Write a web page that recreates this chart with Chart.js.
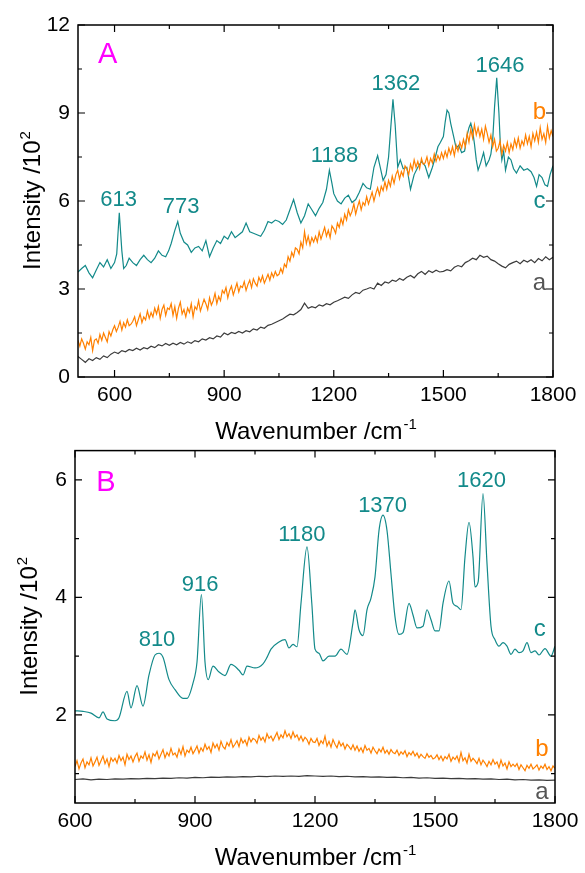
<!DOCTYPE html>
<html>
<head>
<meta charset="utf-8">
<script src="https://cdn.jsdelivr.net/npm/chart.js@4.4.1/dist/chart.umd.min.js"></script>
<style>
  html, body { margin: 0; padding: 0; background: #fff; }
  #wrap { position: relative; width: 585px; height: 873px; }
  canvas { position: absolute; left: 0; }
  #chartA { top: 0; }
  #chartB { top: 430px; }
</style>
</head>
<body>
<div id="wrap">
  <canvas id="chartA" width="585" height="450" style="width:585px;height:450px"></canvas>
  <canvas id="chartB" width="585" height="443" style="width:585px;height:443px"></canvas>
</div>
<script>
const FONT = '"Liberation Sans", Arial, Helvetica, sans-serif';
const TEAL = '#138a8a';
const ORANGE = '#ff8000';
const GREY = '#3c3c3c';

function grid(start, step, n) {
  const out = [];
  for (let i = 0; i < n; i++) out.push(start + i * step);
  return out;
}

// ---- panel A ----
const xTicksA = [600, 900, 1200, 1500, 1800];
const xMinorA = [750, 1050, 1350, 1650];
const yTicksA = [0, 3, 6, 9, 12];
const yMinorA = [1.5, 4.5, 7.5, 10.5];

// spectrum a, every 10 cm-1 from 500
const waveAa = grid(500, 10, 131);
const specAa = [
  0.7, 0.6, 0.5, 0.62, 0.56, 0.66, 0.6, 0.72, 0.66, 0.78,
  0.85, 0.8, 0.9, 0.86, 0.94, 0.9, 0.98, 0.92, 1.0, 0.96,
  1.05, 1.0, 1.1, 1.06, 1.14, 1.08, 1.15, 1.1, 1.18, 1.12,
  1.2, 1.15, 1.24, 1.2, 1.3, 1.26, 1.34, 1.3, 1.4, 1.36,
  1.5, 1.44, 1.52, 1.48, 1.55, 1.5, 1.58, 1.54, 1.64, 1.6,
  1.7, 1.66, 1.76, 1.8, 1.86, 1.92, 1.98, 2.06, 2.14, 2.12,
  2.2, 2.3, 2.52, 2.34, 2.4, 2.36, 2.46, 2.42, 2.5, 2.46,
  2.55, 2.6, 2.66, 2.72, 2.68, 2.8, 2.88, 2.84, 2.96, 3.0,
  3.05, 3.0, 3.2, 3.12, 3.24, 3.2, 3.3, 3.26, 3.36, 3.3,
  3.4, 3.46, 3.38, 3.52, 3.6, 3.5, 3.62, 3.56, 3.64, 3.58,
  3.6, 3.66, 3.62, 3.74, 3.8, 3.76, 3.9, 3.96, 4.05, 4.0,
  4.15, 4.08, 4.12, 4.0, 3.95, 3.86, 3.78, 3.72, 3.84, 3.9,
  3.95, 3.86, 3.98, 3.92, 4.0, 3.9, 4.04, 3.96, 4.1, 4.0,
  4.08
];
// spectrum b, every 5 cm-1 from 500
const waveAb = grid(500, 5, 261);
const specAb = [
  1.25, 1.05, 1.3, 1.15, 0.95, 1.2, 1.1, 1.35, 0.9, 1.25,
  1.3, 1.15, 1.45, 1.25, 1.5, 1.35, 1.2, 1.55, 1.4, 1.6,
  1.75, 1.55, 1.7, 1.9, 1.6, 1.85, 1.7, 1.95, 1.75, 1.8,
  1.9, 2.05, 1.75, 1.95, 2.15, 1.85, 2.05, 1.95, 2.25, 2.0,
  2.2, 2.05, 2.35, 2.15, 2.4, 2.0, 2.3, 2.45, 2.1, 2.35,
  2.3, 2.5, 2.1, 2.4, 2.0, 2.35, 2.55, 2.15, 2.3, 2.05,
  2.35, 2.2, 2.5, 2.05, 2.4, 2.3, 2.6, 2.25, 2.45, 2.65,
  2.5, 2.3, 2.7, 2.45, 2.6, 2.85, 2.5, 2.75, 2.6, 2.95,
  2.85, 3.05, 2.7, 2.95, 3.1, 2.8, 3.0, 3.2, 2.9, 3.1,
  3.05, 3.25, 2.95, 3.15, 3.3, 3.05, 3.35, 3.2, 3.1, 3.4,
  3.25, 3.45, 3.2, 3.35, 3.5, 3.3, 3.55, 3.4, 3.6, 3.45,
  3.5, 3.7, 3.55, 3.85, 3.75, 4.1, 3.95, 4.25, 4.1, 4.4,
  4.35, 4.2, 4.6, 4.4, 4.95, 4.55, 4.8, 4.5, 4.75, 4.6,
  4.8, 4.6, 4.95, 4.7, 4.9, 5.1, 4.8, 5.0, 4.75, 5.15,
  5.05, 4.9, 5.25, 5.1, 5.4, 5.2, 5.55, 5.35, 5.7, 5.5,
  5.65, 5.9, 5.55, 5.8, 6.0, 5.7, 5.95, 5.85, 6.15, 5.9,
  6.1, 6.3, 6.0, 6.25, 6.45, 6.2, 6.5, 6.35, 6.65, 6.4,
  6.7, 6.5, 6.85, 6.6, 6.9, 7.05, 6.75, 7.0, 6.85, 7.2,
  7.1, 6.9, 7.25, 7.05, 7.4, 7.15, 7.35, 7.1, 7.45, 7.25,
  7.3, 7.5, 7.2, 7.45, 7.3, 7.6, 7.35, 7.55, 7.4, 7.65,
  7.45, 7.7, 7.5, 7.8, 7.6, 7.85, 7.55, 7.9, 7.7, 8.0,
  7.8, 8.1, 7.85, 8.3, 8.0, 8.45, 8.15, 8.6, 8.25, 8.5,
  8.2, 8.45, 8.1, 8.55, 8.3, 8.0, 8.25, 7.85, 8.1, 7.7,
  7.8, 8.05, 7.6, 7.9, 7.7, 8.0, 7.65, 7.95, 7.75, 8.1,
  7.85, 8.15, 7.8, 8.05, 7.9, 8.25, 7.95, 8.2, 7.85, 8.3,
  8.05, 8.35, 8.0, 8.5, 8.1, 8.3, 8.0, 8.55, 8.15, 8.4,
  8.2
];
// spectrum c, sampled closer around the bands
const waveAc = [
  500, 510, 520, 530, 540, 550, 560, 570, 580, 590, 600,
  606, 613, 620, 625, 632,
  640, 650, 660, 670, 680, 690, 700, 710, 720, 730, 740,
  748, 755, 765, 773, 780, 790,
  800, 810, 820, 830, 840, 850, 860, 870, 880, 890,
  900, 910, 920, 930, 940, 950, 960, 970, 980, 990,
  1000, 1010, 1020, 1030, 1040, 1050, 1060, 1070, 1080, 1090,
  1100, 1110, 1120, 1130, 1140, 1150, 1160, 1170, 1180,
  1188, 1195,
  1200, 1210, 1220, 1230, 1240, 1250, 1260, 1270, 1280, 1290, 1300, 1310,
  1320, 1328, 1335, 1343, 1350, 1356, 1362, 1368, 1375, 1382, 1390,
  1400, 1410, 1420, 1430, 1440, 1450, 1460, 1470,
  1478, 1485, 1492, 1500, 1505, 1510, 1515, 1520, 1528, 1535, 1542, 1550,
  1558, 1565, 1570, 1575, 1580, 1585, 1590, 1595, 1602, 1610, 1617, 1625,
  1630, 1635, 1640, 1646, 1652, 1656, 1660, 1665, 1670, 1678, 1685, 1692,
  1700, 1710, 1720, 1730, 1740,
  1748, 1755, 1762, 1770, 1778, 1785, 1792, 1800
];
const specAc = [
  3.58, 3.7, 3.8, 3.55, 3.38, 3.65, 3.9, 3.75, 4.0, 3.7, 3.9,
  4.2, 5.6, 4.3, 3.7, 3.8,
  4.05, 3.9, 3.8, 4.0, 4.15, 4.0, 3.9, 4.05, 4.3, 4.15, 4.1,
  4.3, 4.55, 5.0, 5.3, 4.9, 4.6,
  4.5, 4.25, 4.4, 4.45, 4.3, 4.65, 4.1, 4.4, 4.65, 4.55,
  4.8, 4.7, 4.95, 4.75, 4.85, 4.95, 5.25, 4.95, 4.9, 4.85,
  4.8, 5.0, 5.3, 5.25, 5.35, 5.3, 5.2, 5.35, 5.7, 6.05,
  5.6, 5.25, 5.5, 5.9, 5.7, 5.5, 5.75, 5.95, 6.4,
  7.05, 6.6,
  6.25, 6.0, 5.9, 6.1, 6.2, 5.95, 6.05, 6.3, 6.6, 6.45, 6.4, 7.15,
  7.55, 7.1, 6.7, 6.9, 7.5, 8.5, 9.47, 8.6, 7.15, 7.4, 7.1,
  7.15, 6.4, 6.9, 7.15, 7.35, 7.2, 6.8, 7.15,
  7.5, 7.85, 8.0, 8.2, 8.7, 9.1, 9.0, 8.65, 8.2, 7.8, 7.9, 7.65,
  7.7, 8.25, 8.5, 8.65, 8.4, 7.95, 7.4, 7.05, 7.3, 7.65, 7.2, 7.4,
  7.6, 8.1, 9.2, 10.2, 9.0, 7.9, 7.4, 7.7, 7.05, 7.5, 7.4, 7.1,
  6.95, 7.2, 7.05, 7.1, 7.0,
  6.8, 6.5, 6.9, 6.8, 6.55, 6.5, 6.9, 7.2
];

// ---- panel B ----
const xTicksB = [600, 900, 1200, 1500, 1800];
const xMinorB = [750, 1050, 1350, 1650];
const yTicksB = [2, 4, 6];
const yMinorB = [1, 3, 5];

const waveBa = grid(600, 20, 61);
const specBa = [
  0.9, 0.91, 0.895, 0.905, 0.9, 0.91, 0.905, 0.915, 0.91, 0.92,
  0.915, 0.925, 0.92, 0.93, 0.925, 0.935, 0.93, 0.94, 0.935, 0.945,
  0.94, 0.95, 0.945, 0.955, 0.95, 0.96, 0.955, 0.96, 0.955, 0.965,
  0.96, 0.955, 0.96, 0.95, 0.955, 0.945, 0.95, 0.94, 0.945, 0.935,
  0.94, 0.93, 0.935, 0.925, 0.93, 0.92, 0.925, 0.915, 0.92, 0.91,
  0.915, 0.905, 0.91, 0.9, 0.905, 0.895, 0.9, 0.89, 0.895, 0.885,
  0.89
];
const waveBb = grid(600, 5, 241);
const specBb = [
  1.12, 1.22, 1.08, 1.18, 1.25, 1.1, 1.2, 1.15, 1.27, 1.13,
  1.2, 1.28, 1.14, 1.22, 1.3, 1.17, 1.25, 1.12, 1.27, 1.21,
  1.26, 1.18, 1.31, 1.22, 1.28, 1.15, 1.33, 1.24, 1.3, 1.2,
  1.29, 1.35, 1.21, 1.3, 1.26, 1.37, 1.23, 1.32, 1.19, 1.34,
  1.3, 1.38, 1.25, 1.33, 1.41, 1.27, 1.36, 1.3, 1.43, 1.32,
  1.35, 1.28, 1.42, 1.33, 1.46, 1.3, 1.4, 1.36, 1.45, 1.34,
  1.4, 1.47, 1.35, 1.44, 1.38, 1.5, 1.41, 1.46, 1.36, 1.52,
  1.44, 1.5, 1.4, 1.55, 1.46, 1.42, 1.53, 1.47, 1.58, 1.45,
  1.5, 1.56, 1.46, 1.6, 1.52, 1.57, 1.48, 1.62, 1.54, 1.6,
  1.58, 1.52, 1.65, 1.57, 1.62, 1.54, 1.68, 1.6, 1.64, 1.56,
  1.63, 1.7, 1.58, 1.66, 1.61, 1.73, 1.63, 1.68, 1.6, 1.71,
  1.62, 1.66, 1.57, 1.64, 1.55, 1.62, 1.58, 1.5, 1.6, 1.54,
  1.53, 1.6, 1.48, 1.56, 1.51, 1.64, 1.47, 1.55, 1.45, 1.58,
  1.5, 1.44, 1.55, 1.47, 1.52, 1.42, 1.5, 1.46, 1.41, 1.49,
  1.4, 1.47, 1.38, 1.44, 1.36, 1.48, 1.4, 1.43, 1.35, 1.45,
  1.39, 1.34, 1.42, 1.37, 1.45, 1.35, 1.4, 1.33, 1.41, 1.36,
  1.34, 1.4, 1.31, 1.37, 1.33, 1.39, 1.29, 1.36, 1.32, 1.38,
  1.3, 1.35, 1.27, 1.33, 1.29, 1.26, 1.34, 1.28, 1.31, 1.25,
  1.27, 1.32, 1.24, 1.3, 1.22, 1.29, 1.25, 1.33, 1.21, 1.28,
  1.24, 1.3, 1.2, 1.36, 1.22, 1.27, 1.18, 1.33, 1.21, 1.26,
  1.22, 1.17, 1.26, 1.15, 1.23, 1.18, 1.12, 1.21, 1.15, 1.24,
  1.16, 1.2, 1.1, 1.23, 1.13, 1.18, 1.08, 1.2, 1.12, 1.16,
  1.12, 1.17, 1.07, 1.15, 1.1, 1.05, 1.14, 1.09, 1.16, 1.08,
  1.11, 1.15, 1.06, 1.13, 1.09, 1.16, 1.07, 1.12, 1.05, 1.13,
  1.09
];
const waveBc = [
  600, 620, 640, 660, 670, 680, 700, 710, 730, 740,
  755, 770, 785, 800, 810, 820, 835, 850, 870, 880,
  895, 905, 916, 925, 933, 945, 960, 975, 990, 1010,
  1020, 1030, 1050, 1070, 1080, 1090, 1110, 1125, 1135, 1145,
  1155, 1165, 1180, 1192, 1200, 1210, 1220, 1235, 1250, 1265,
  1280, 1295, 1300, 1310, 1320, 1330, 1340, 1350, 1360, 1370,
  1380, 1390, 1400, 1410, 1420, 1435, 1445, 1455, 1470, 1480,
  1490, 1500, 1510, 1520, 1535, 1545, 1555, 1565, 1575, 1585,
  1595, 1600, 1608, 1620, 1630, 1640, 1650, 1660, 1670, 1680,
  1690, 1700, 1710, 1720, 1730, 1740, 1750, 1760, 1775, 1790,
  1800
];
const specBc = [
  2.07, 2.06, 2.03, 1.95, 2.05, 1.93, 1.9, 1.95, 2.4, 2.12,
  2.5, 2.15, 2.68, 3.02, 3.05, 2.98, 2.6, 2.43, 2.28, 2.28,
  2.54, 2.9, 4.05, 2.9, 2.6, 2.83, 2.73, 2.67, 2.86, 2.76,
  2.68, 2.83, 2.8, 2.87, 2.98, 3.12, 3.24, 3.28, 3.14, 3.2,
  3.16, 3.9, 4.86, 3.9, 3.12, 3.05, 2.92, 3.0, 3.0, 3.12,
  3.03, 3.57, 3.79, 3.45, 3.35, 3.79, 3.99, 4.35, 5.14, 5.4,
  5.14, 4.4, 3.67, 3.37, 3.4, 3.9, 3.7, 3.48, 3.51, 3.79,
  3.62, 3.43, 3.43, 3.9, 4.28, 3.9, 3.85, 3.79, 4.69, 5.28,
  4.69, 4.18, 4.27, 5.77, 4.58, 3.51, 3.28, 3.17, 3.23, 3.17,
  3.03, 3.12, 3.06, 3.09, 3.23, 3.06, 3.09, 3.02, 3.13, 3.0,
  3.17
];

function pts(xs, ys) {
  return xs.map((x, i) => ({ x: x, y: ys[i] }));
}

function supText(ctx, main, sup, x, y, size, supSize, rise) {
  ctx.font = size + 'px ' + FONT;
  const w1 = ctx.measureText(main).width;
  ctx.font = supSize + 'px ' + FONT;
  const w2 = ctx.measureText(sup).width;
  const x0 = x - (w1 + w2) / 2;
  ctx.textAlign = 'left';
  ctx.textBaseline = 'alphabetic';
  ctx.font = size + 'px ' + FONT;
  ctx.fillText(main, x0, y);
  ctx.font = supSize + 'px ' + FONT;
  ctx.fillText(sup, x0 + w1 + 1, y - rise);
}

// frame, inward ticks, axis titles and text labels
const panelPlugin = {
  id: 'panel',
  afterDraw(chart, args, o) {
    const ctx = chart.ctx;
    const { left, right, top, bottom } = chart.chartArea;
    const sx = chart.scales.x, sy = chart.scales.y;
    ctx.save();
    ctx.strokeStyle = '#000';
    ctx.lineWidth = 1.5;
    ctx.strokeRect(left, top, right - left, bottom - top);

    ctx.lineWidth = 1.2;
    ctx.beginPath();
    const tickX = (v, len) => {
      const p = sx.getPixelForValue(v);
      ctx.moveTo(p, bottom); ctx.lineTo(p, bottom - len);
      ctx.moveTo(p, top); ctx.lineTo(p, top + len);
    };
    const tickY = (v, len) => {
      const p = sy.getPixelForValue(v);
      ctx.moveTo(left, p); ctx.lineTo(left + len, p);
      ctx.moveTo(right, p); ctx.lineTo(right - len, p);
    };
    o.xMajor.forEach(v => tickX(v, 7));
    o.xMinor.forEach(v => tickX(v, 4));
    o.yMajor.forEach(v => tickY(v, 7));
    o.yMinor.forEach(v => tickY(v, 4));
    ctx.stroke();

    ctx.fillStyle = '#000';
    supText(ctx, 'Wavenumber /cm', '-1', (left + right) / 2, bottom + 62, 24, 15, 10);
    ctx.save();
    ctx.translate(left - 38, (top + bottom) / 2);
    ctx.rotate(-Math.PI / 2);
    supText(ctx, 'Intensity /10', '2', 0, 0, 24, 15, 10);
    ctx.restore();

    o.labels.forEach(l => {
      ctx.font = l.size + 'px ' + FONT;
      ctx.fillStyle = l.color;
      ctx.textAlign = 'center';
      ctx.textBaseline = 'alphabetic';
      const m = ctx.measureText(l.text);
      const cx = sx.getPixelForValue(l.x);
      const cy = sy.getPixelForValue(l.y);
      ctx.fillText(l.text, cx, cy + (m.actualBoundingBoxAscent - m.actualBoundingBoxDescent) / 2);
    });
    ctx.restore();
  }
};

function makePanel(id, o) {
  return new Chart(document.getElementById(id), {
    type: 'line',
    data: {
      datasets: o.series.map(s => ({
        data: pts(s.x, s.y),
        borderColor: s.color,
        borderWidth: 1.2,
        pointRadius: 0,
        tension: 0,
        cubicInterpolationMode: s.smooth ? 'monotone' : 'default',
        fill: false
      }))
    },
    options: {
      responsive: false,
      animation: false,
      devicePixelRatio: 1,
      layout: { padding: { top: o.padTop, right: o.padRight, left: 0, bottom: 0 } },
      plugins: {
        legend: { display: false },
        tooltip: { enabled: false },
        panel: {
          xMajor: o.xMajor, xMinor: o.xMinor,
          yMajor: o.yMajor, yMinor: o.yMinor,
          labels: o.labels
        }
      },
      scales: {
        x: {
          type: 'linear',
          min: o.xMin, max: o.xMax,
          grid: { display: false, drawTicks: false },
          border: { display: false },
          ticks: {
            font: { family: FONT, size: 21 }, color: '#000', padding: 6, maxRotation: 0,
            callback: v => String(v)
          },
          afterBuildTicks: s => { s.ticks = o.xMajor.map(v => ({ value: v })); },
          afterFit: s => { s.height = o.xHeight; }
        },
        y: {
          type: 'linear',
          min: o.yMin, max: o.yMax,
          grid: { display: false, drawTicks: false },
          border: { display: false },
          ticks: {
            font: { family: FONT, size: 21 }, color: '#000', padding: 8,
            callback: v => String(v)
          },
          afterBuildTicks: s => { s.ticks = o.yMajor.map(v => ({ value: v })); },
          afterFit: s => { s.width = o.yWidth; }
        }
      }
    },
    plugins: [panelPlugin]
  });
}

makePanel('chartA', {
  xMin: 500, xMax: 1800, yMin: 0, yMax: 12,
  xMajor: xTicksA, xMinor: xMinorA, yMajor: yTicksA, yMinor: yMinorA,
  padTop: 25, padRight: 32, xHeight: 73, yWidth: 78,
  series: [
    { x: waveAa, y: specAa, color: GREY },
    { x: waveAb, y: specAb, color: ORANGE },
    { x: waveAc, y: specAc, color: TEAL }
  ],
  labels: [
    { text: 'A', x: 581, y: 11.03, color: '#ff00ff', size: 29 },
    { text: '613', x: 611, y: 6.1, color: TEAL, size: 22 },
    { text: '773', x: 782, y: 5.86, color: TEAL, size: 22 },
    { text: '1188', x: 1202, y: 7.57, color: TEAL, size: 22 },
    { text: '1362', x: 1370, y: 10.04, color: TEAL, size: 22 },
    { text: '1646', x: 1655, y: 10.64, color: TEAL, size: 22 },
    { text: 'b', x: 1763, y: 9.09, color: ORANGE, size: 24 },
    { text: 'c', x: 1763, y: 6.0, color: TEAL, size: 24 },
    { text: 'a', x: 1763, y: 3.19, color: '#555', size: 24 }
  ]
});

makePanel('chartB', {
  xMin: 600, xMax: 1800, yMin: 0.5, yMax: 6.5,
  xMajor: xTicksB, xMinor: xMinorB, yMajor: yTicksB, yMinor: yMinorB,
  padTop: 16, padRight: 30, xHeight: 70, yWidth: 75,
  series: [
    { x: waveBa, y: specBa, color: GREY },
    { x: waveBb, y: specBb, color: ORANGE },
    { x: waveBc, y: specBc, color: TEAL, smooth: true }
  ],
  labels: [
    { text: 'B', x: 677, y: 5.98, color: '#ff00ff', size: 29 },
    { text: '810', x: 805, y: 3.3, color: TEAL, size: 22 },
    { text: '916', x: 913, y: 4.24, color: TEAL, size: 22 },
    { text: '1180', x: 1167, y: 5.09, color: TEAL, size: 22 },
    { text: '1370', x: 1369, y: 5.59, color: TEAL, size: 22 },
    { text: '1620', x: 1616, y: 6.0, color: TEAL, size: 22 },
    { text: 'c', x: 1762, y: 3.45, color: TEAL, size: 24 },
    { text: 'b', x: 1767, y: 1.45, color: ORANGE, size: 24 },
    { text: 'a', x: 1767, y: 0.68, color: '#555', size: 24 }
  ]
});
</script>
</body>
</html>
